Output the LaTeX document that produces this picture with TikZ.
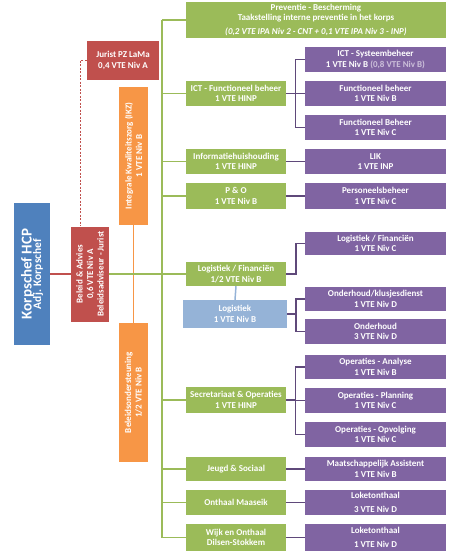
\documentclass[tikz,border=0pt]{standalone}
\usepackage{fontspec}
\setmainfont{Carlito}
\definecolor{ogreen}{HTML}{9BBB59}
\definecolor{opurple}{HTML}{8064A2}
\definecolor{ored}{HTML}{C0504D}
\definecolor{oorange}{HTML}{F79646}
\definecolor{oblue}{HTML}{4F81BD}
\definecolor{olblue}{HTML}{95B3D7}
\definecolor{odpurple}{HTML}{5F497A}
\definecolor{olav}{HTML}{CCC0DA}
\tikzset{
    boxbase/.style = {rectangle, align=center, text=white, inner sep=1pt, font=\bfseries\fontsize{9}{10.5}\selectfont},
    boxg/.style = {boxbase, fill=ogreen, minimum width=100pt, minimum height=25pt},
    boxp/.style = {boxbase, fill=opurple, minimum width=141pt, minimum height=25pt},
    boxlb/.style = {boxbase, fill=olblue, minimum width=104pt, minimum height=28pt},
    boxr/.style = {boxbase, fill=ored},
    boxo/.style = {boxbase, fill=oorange, rotate=90, minimum width=138pt, minimum height=29pt},
    boxk/.style = {boxbase, fill=oblue, rotate=90},
    edgeg/.style = {-, line width=1.5pt, ogreen},
    edgep/.style = {-, line width=1.5pt, odpurple},
    edger/.style = {-, line width=1.5pt, ored},
    edgeo/.style = {-, line width=1.5pt, oorange},
    edgeb/.style = {-, line width=1.5pt, olblue},
    edgerd/.style = {-, line width=0.7pt, ored, dash pattern=on 2pt off 1.5pt} % jurist link
}
\begin{document}
\begin{tikzpicture}[x=1pt, y=-1pt]
  \useasboundingbox (0,0) rectangle (450,555);
  % left column
  \node[boxk, minimum width=142pt, minimum height=36pt] (korps) at (32,274)
    {\fontsize{15}{15}\selectfont Korpschef HCP\\[-1pt]\fontsize{11.5}{12}\selectfont Adj. Korpschef};
  \node[boxr, rotate=90, minimum width=95pt, minimum height=38pt] (beleid) at (90,274)
    {Beleid \& Advies\\0,6 VTE Niv A\\Beleidsadviseur - Jurist};
  \node[boxr, minimum width=72pt, minimum height=39pt] (jurist) at (123,60.5)
    {Jurist PZ LaMa\\0,4 VTE Niv A};
  \node[boxo] (ikz) at (133.5,156) {Integrale Kwaliteitszorg (IKZ)\\1 VTE Niv B};
  \node[boxo, minimum width=139pt] (bos) at (133.5,392.5) {Beleidsondersteuning\\1/2 VTE Niv B};
  % green column
  \node[boxg, minimum width=260pt, minimum height=36pt] (prev) at (316,20)
    {Preventie - Bescherming\\Taakstelling interne preventie in het korps\\[3pt]\textit{(0,2 VTE IPA Niv 2 - CNT + 0,1 VTE IPA Niv 3 - INP)}};
  \node[boxg] (ictf) at (236,93.5) {ICT - Functioneel beheer\\1 VTE HINP};
  \node[boxg] (info) at (236,161.5) {Informatiehuishouding\\1 VTE HINP};
  \node[boxg, minimum height=26pt] (po) at (236,196) {P \& O\\1 VTE Niv B};
  \node[boxg, minimum height=24pt] (lfg) at (236,274) {Logistiek / Financi\"en\\1/2 VTE Niv B};
  \node[boxlb] (logi) at (235,314) {Logistiek\\1 VTE Niv B};
  \node[boxg, minimum height=26pt] (secr) at (236,400) {Secretariaat \& Operaties\\1 VTE HINP};
  \node[boxg, minimum height=24pt] (jeugd) at (236,469) {Jeugd \& Sociaal};
  \node[boxg] (onthaal) at (236,502.5) {Onthaal Maaseik};
  \node[boxg, minimum height=27pt] (wijk) at (236,537.5) {Wijk en Onthaal\\Dilsen-Stokkem};
  % purple column
  \node[boxp] (icts) at (375.5,59.5) {ICT - Systeembeheer\\1 VTE Niv B \textcolor{olav}{(0,8 VTE Niv B)}};
  \node[boxp] (fb) at (375.5,93.5) {Functioneel beheer\\1 VTE Niv B};
  \node[boxp] (fbc) at (375.5,127.5) {Functioneel Beheer\\1 VTE Niv C};
  \node[boxp] (lik) at (375.5,161.5) {LIK\\1 VTE INP};
  \node[boxp, minimum height=26pt] (pers) at (375.5,196) {Personeelsbeheer\\1 VTE Niv C};
  \node[boxp, minimum height=23pt] (lfp) at (375.5,243.5) {Logistiek / Financi\"en\\1 VTE Niv C};
  \node[boxp, minimum height=24pt] (klus) at (375.5,299) {Onderhoud/klusjesdienst\\1 VTE Niv D};
  \node[boxp] (ond) at (375.5,331.5) {Onderhoud\\3 VTE Niv D};
  \node[boxp, minimum height=24pt] (anal) at (375.5,367) {Operaties - Analyse\\1 VTE Niv B};
  \node[boxp] (plan) at (375.5,400.5) {Operaties - Planning\\1 VTE Niv C};
  \node[boxp] (opv) at (375.5,434.5) {Operaties - Opvolging\\1 VTE Niv C};
  \node[boxp, minimum height=24pt] (maat) at (375.5,469) {Maatschappelijk Assistent\\1 VTE Niv B};
  \node[boxp] (lok1) at (375.5,502.5) {Loketonthaal\\[3pt]3 VTE Niv D};
  \node[boxp, minimum height=27pt] (lok2) at (375.5,537.5) {Loketonthaal\\[3pt]1 VTE Niv D};
  % connectors (rotated boxes: south = right side, north = left side, east = top, west = bottom)
  \coordinate (trunk) at (162,0);
  \coordinate (jcorner) at (80,60.5);
  \draw[edgeo] (ikz.west) -- (bos.east);
  \draw[edger] (korps.south) -- (beleid.north);
  \draw[edgerd] (jurist.west) -- (jcorner) -- (jcorner |- beleid.east);
  \draw[edgeg] (beleid.south) -- (beleid.south -| lfg.west);
  \draw[edgeg] (prev.west -| trunk) -- (wijk.west -| trunk);
  \foreach \g in {prev,ictf,info,po,secr,jeugd,onthaal,wijk}
    \draw[edgeg] (\g.west) -- (\g.west -| trunk);
  \draw[edgeb] (lfg.south) -- (logi.north);
  \foreach \p in {icts,fb,fbc}
    \draw[edgep] (ictf.east) -- ++(9.5,0) |- (\p.west);
  \draw[edgep] (lfg.east) -- ++(10,0) |- (lfp.west);
  \foreach \p in {klus,ond}
    \draw[edgep] (logi.east) -- ++(9,0) |- (\p.west);
  \foreach \p in {anal,plan,opv}
    \draw[edgep] (secr.east) -- ++(9.5,0) |- (\p.west);
  \draw[edgep] (info.east) -- (lik.west);
  \draw[edgep] (po.east) -- (pers.west);
  \draw[edgep] (jeugd.east) -- (maat.west);
  \draw[edgep] (onthaal.east) -- (lok1.west);
  \draw[edgep] (wijk.east) -- (lok2.west);
\end{tikzpicture}
\end{document}
